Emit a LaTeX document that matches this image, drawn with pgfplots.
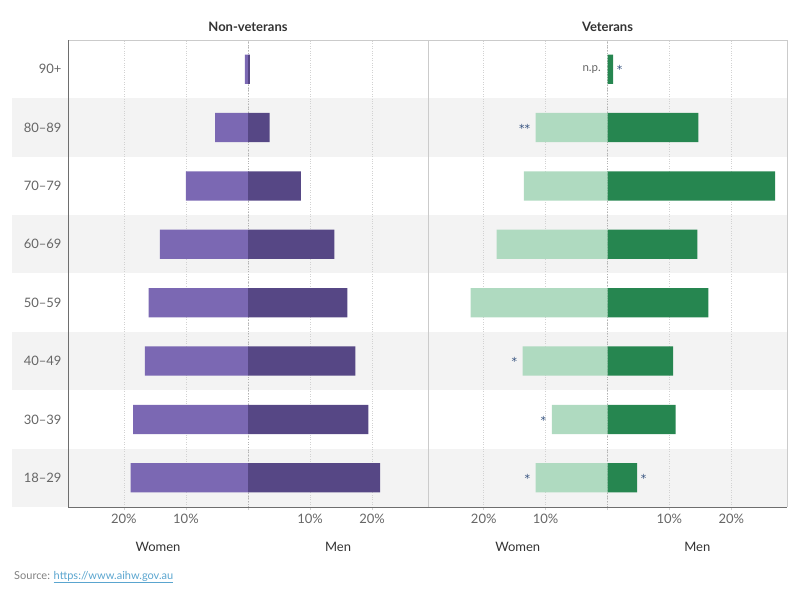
\documentclass[border=0pt]{standalone}
\usepackage{pgfplots}
\pgfplotsset{compat=1.18}
\usepackage{fontspec}
\setmainfont{Lato}
\newfontfamily\astfont{DejaVu Sans}
\definecolor{nvw}{HTML}{7B68B3}
\definecolor{nvm}{HTML}{564785}
\definecolor{vw}{HTML}{AFDAC0}
\definecolor{vm}{HTML}{268650}
\definecolor{band}{HTML}{F3F3F3}
\definecolor{gridc}{HTML}{D2D2D2}
\definecolor{framec}{HTML}{CBCBCB}
\definecolor{axisdark}{HTML}{6E6E6E}
\definecolor{ticktext}{HTML}{666666}
\definecolor{titletext}{HTML}{333333}
\definecolor{astc}{HTML}{34517E}
\definecolor{linkc}{HTML}{5AA5CF}
\tikzset{lab/.style={font=\fontsize{13}{15}\selectfont, text=titletext}}
\pgfplotsset{
  pyr/.style={
    scale only axis, height=467pt,
    xmin=-29, xmax=29, ymin=-0.5, ymax=7.5,
    xtick={-20,-10,0,10,20}, xticklabels={20\%,10\%,,10\%,20\%},
    xmajorgrids, major grid style={gridc, dotted, line width=0.7pt},
    axis line style={draw=none},
    tick align=outside, xtick pos=lower, major tick length=3pt,
    xtick style={gridc, line width=0.7pt},
    ytick={0,...,7}, ytick style={draw=none},
    xticklabel style={font=\fontsize{13}{15}\selectfont, text=ticktext, yshift=-1pt},
    yticklabel style={font=\fontsize{13}{15}\selectfont, text=ticktext},
    clip=false,
    title style={font=\bfseries\fontsize{13}{15}\selectfont, text=titletext, yshift=-1pt},
  },
  bars/.style={xbar, bar width=0.5, bar shift=0pt, draw=none},
  ann/.style={draw=none, mark=none, nodes near coords, point meta=explicit symbolic,
    nodes near coords style={font=\astfont\fontsize{11}{13}\selectfont, text=astc, inner sep=1.5pt}},
}
\begin{document}
\begin{tikzpicture}
\path (0,0) rectangle (800pt,600pt);
% row bands
\fill[band] (12pt,443.25pt) rectangle (787pt,501.625pt);
\fill[band] (12pt,326.5pt) rectangle (787pt,384.875pt);
\fill[band] (12pt,209.75pt) rectangle (787pt,268.125pt);
\fill[band] (12pt,93pt) rectangle (787pt,151.375pt);

\begin{axis}[pyr, at={(68pt,93pt)}, anchor=south west, width=360pt,
  title={Non-veterans},
  yticklabels={18--29,30--39,40--49,50--59,60--69,70--79,80--89,90+}]
\draw[gray!60, dotted, line width=0.7pt] (axis cs:0,-0.5) -- (axis cs:0,7.5);
\addplot[bars, fill=nvw] coordinates {(-18.9,0) (-18.5,1) (-16.6,2) (-16.0,3) (-14.2,4) (-10.0,5) (-5.3,6) (-0.5,7)};
\addplot[bars, fill=nvm] coordinates {(21.3,0) (19.4,1) (17.3,2) (16.0,3) (13.9,4) (8.5,5) (3.5,6) (0.3,7)};
\draw[framec, line width=0.8pt] (rel axis cs:0,1) -- (rel axis cs:1,1) -- (rel axis cs:1,0);
\draw[axisdark, line width=0.9pt] (rel axis cs:0,1) -- (rel axis cs:0,0) -- (rel axis cs:1,0);
\node[lab, yshift=-40pt] at (axis cs:-14.5,-0.5) {Women};
\node[lab, yshift=-40pt] at (axis cs:14.5,-0.5) {Men};
\end{axis}

\begin{axis}[pyr, at={(428pt,93pt)}, anchor=south west, width=359pt,
  title={Veterans}, yticklabels={}]
\draw[gray!60, dotted, line width=0.7pt] (axis cs:0,-0.5) -- (axis cs:0,7.5);
\addplot[bars, fill=vw] coordinates {(-11.6,0) (-9.0,1) (-13.7,2) (-22.1,3) (-17.9,4) (-13.5,5) (-11.6,6)};
\addplot[bars, fill=vm] coordinates {(4.8,0) (11.0,1) (10.6,2) (16.3,3) (14.5,4) (27.1,5) (14.7,6) (0.9,7)};
\addplot[ann, nodes near coords style={anchor=east, xshift=-4pt, yshift=-0.5pt}] coordinates {(-11.6,0) [*] (-9.0,1) [*] (-13.7,2) [*] (-11.6,6) [**]};
\addplot[ann, nodes near coords style={anchor=west, xshift=2pt, yshift=-0.5pt}] coordinates {(4.8,0) [*] (0.9,7) [*]};
\addplot[ann, nodes near coords style={anchor=east, xshift=-5pt, text=ticktext, font=\fontsize{11.5}{13}\selectfont}] coordinates {(0,7) [n.p.]};
\draw[framec, line width=0.8pt] (rel axis cs:0,0) -- (rel axis cs:0,1) -- (rel axis cs:1,1) -- (rel axis cs:1,0);
\draw[axisdark, line width=0.9pt] (rel axis cs:0,0) -- (rel axis cs:1,0);
\node[lab, yshift=-40pt] at (axis cs:-14.5,-0.5) {Women};
\node[lab, yshift=-40pt] at (axis cs:14.5,-0.5) {Men};
\end{axis}

\node[anchor=west, inner sep=0pt, font=\fontsize{11}{13}\selectfont] at (14pt,23pt)
  {\textcolor{gray}{Source:} \textcolor{linkc}{\underline{https://www.aihw.gov.au}}};
\end{tikzpicture}
\end{document}
